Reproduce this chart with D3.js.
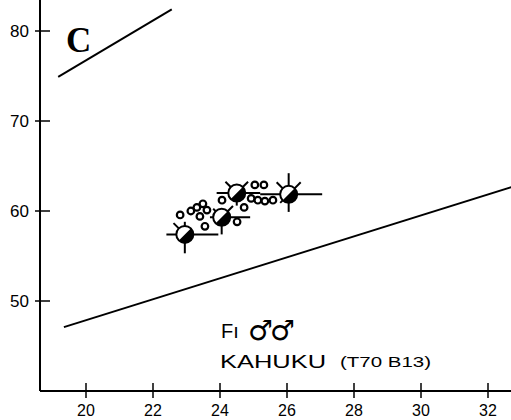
<!DOCTYPE html>
<head>
  <meta charset="utf-8">
  <style>
    body { margin: 0; background: #fff; }
    text { font-family: "Liberation Sans", Arial, sans-serif; fill: #000; }
  </style>
  <title>F1 males, Kahuku</title>
</head>
<body>
  <script src="https://cdn.jsdelivr.net/npm/d3@7/dist/d3.min.js"></script>
  <script>
    // axis ticks
    var xTicks = [20, 22, 24, 26, 28, 30, 32];
    var yTicks = [50, 60, 70, 80];

    // bounding lines (endpoints in data units)
    var upperLineX = [19.17, 22.56];
    var upperLineY = [74.9, 82.4];
    var lowerLineX = [19.34, 32.7];
    var lowerLineY = [47.1, 62.65];

    // individual males (open circles)
    var smallX = [22.81, 23.13, 23.31, 23.49, 23.61, 23.40, 23.55, 24.06, 24.51, 24.72, 25.04, 25.31, 24.93, 25.13, 25.34, 25.58];
    var smallY = [59.56, 60.0, 60.4, 60.8, 60.1, 59.4, 58.3, 61.2, 58.8, 60.4, 62.9, 62.9, 61.4, 61.2, 61.1, 61.2];

    // means with ranges
    var bigX   = [22.95, 24.05, 24.5, 26.05];
    var bigY   = [57.4, 59.3, 62.0, 61.85];
    var bigXLo = [22.4, 23.7, 23.9, 25.2];
    var bigXHi = [23.95, 24.9, 25.2, 27.05];
    var bigYLo = [55.3, 57.4, 60.6, 59.9];
    var bigYHi = [58.8, 59.3, 62.0, 64.2];
    // extra spokes: [angle in degrees, length]
    var bigSpokes = [
      [[-135, 16]],
      [[-135, 12], [-45, 16]],
      [[-135, 16], [-45, 16]],
      [[-135, 17], [-45, 17], [135, 12]]
    ];

    var width = 511, height = 420;

    var svg = d3.select("body").append("svg").attr("width", width).attr("height", height);

    var x = d3.scaleLinear().domain([20, 32]).range([86, 488]);
    var y = d3.scaleLinear().domain([40, 80]).range([391, 31]);
    var x0 = x.invert(40), y0 = 40;

    // axes
    svg.append("line").attr("x1", x(x0)).attr("x2", width).attr("y1", y(y0)).attr("y2", y(y0))
      .attr("stroke", "#000").attr("stroke-width", 2);
    svg.append("line").attr("x1", x(x0)).attr("x2", x(x0)).attr("y1", y(y0)).attr("y2", 0)
      .attr("stroke", "#000").attr("stroke-width", 2);

    svg.selectAll(".xt").data(xTicks).enter().append("line").attr("class", "xt")
      .attr("x1", function(d) { return x(d); }).attr("x2", function(d) { return x(d); })
      .attr("y1", y(y0) - 8).attr("y2", y(y0) + 7).attr("stroke", "#000").attr("stroke-width", 1.5);
    svg.selectAll(".xl").data(xTicks).enter().append("text").attr("class", "xl")
      .attr("x", function(d) { return x(d); }).attr("y", 416).attr("text-anchor", "middle")
      .attr("font-size", 16).text(function(d) { return d; });

    svg.selectAll(".yt").data(yTicks).enter().append("line").attr("class", "yt")
      .attr("y1", function(d) { return y(d); }).attr("y2", function(d) { return y(d); })
      .attr("x1", x(x0) - 5).attr("x2", x(x0) + 10).attr("stroke", "#000").attr("stroke-width", 1.5);
    svg.selectAll(".yl").data(yTicks).enter().append("text").attr("class", "yl")
      .attr("x", 29).attr("y", function(d) { return y(d) + 6; }).attr("text-anchor", "end")
      .attr("font-size", 17).text(function(d) { return d; });

    // bounding lines
    var line = d3.line().x(function(d) { return x(d[0]); }).y(function(d) { return y(d[1]); });
    [d3.zip(upperLineX, upperLineY), d3.zip(lowerLineX, lowerLineY)].forEach(function(pts) {
      svg.append("path").attr("d", line(pts)).attr("fill", "none").attr("stroke", "#000").attr("stroke-width", 2);
    });

    // big symbols: ranges and spokes
    var big = bigX.map(function(v, i) {
      return { x: v, y: bigY[i], xlo: bigXLo[i], xhi: bigXHi[i], ylo: bigYLo[i], yhi: bigYHi[i], spokes: bigSpokes[i] };
    });
    var g = svg.selectAll(".big").data(big).enter().append("g").attr("class", "big");
    g.append("line").attr("x1", function(d) { return x(d.xlo); }).attr("x2", function(d) { return x(d.xhi); })
      .attr("y1", function(d) { return y(d.y); }).attr("y2", function(d) { return y(d.y); })
      .attr("stroke", "#000").attr("stroke-width", 2);
    g.append("line").attr("x1", function(d) { return x(d.x); }).attr("x2", function(d) { return x(d.x); })
      .attr("y1", function(d) { return y(d.ylo); }).attr("y2", function(d) { return y(d.yhi); })
      .attr("stroke", "#000").attr("stroke-width", 2);
    g.each(function(d) {
      var s = d3.select(this);
      d.spokes.forEach(function(sp) {
        var a = sp[0] * Math.PI / 180;
        s.append("line").attr("x1", x(d.x)).attr("y1", y(d.y))
          .attr("x2", x(d.x) + Math.cos(a) * sp[1]).attr("y2", y(d.y) + Math.sin(a) * sp[1])
          .attr("stroke", "#000").attr("stroke-width", 2);
      });
    });

    // small open circles
    svg.selectAll(".sm").data(d3.zip(smallX, smallY)).enter().append("circle").attr("class", "sm")
      .attr("cx", function(d) { return x(d[0]); }).attr("cy", function(d) { return y(d[1]); })
      .attr("r", 3.3).attr("fill", "#fff").attr("stroke", "#000").attr("stroke-width", 2.2);

    // half-filled circles
    var r = 8.5;
    g.append("circle").attr("cx", function(d) { return x(d.x); }).attr("cy", function(d) { return y(d.y); })
      .attr("r", r).attr("fill", "#fff").attr("stroke", "#000").attr("stroke-width", 2);
    var half = d3.arc().innerRadius(0).outerRadius(r).startAngle(Math.PI / 4).endAngle(Math.PI * 5 / 4);
    g.append("path").attr("d", half)
      .attr("transform", function(d) { return "translate(" + x(d.x) + "," + y(d.y) + ")"; })
      .attr("fill", "#000");

    // panel letter
    svg.append("text").attr("x", 66).attr("y", 52).attr("font-size", 35).attr("font-weight", "bold")
      .style("font-family", "'Liberation Serif', 'Times New Roman', serif").text("C");

    // labels
    svg.append("text").attr("x", 221).attr("y", 338).attr("font-size", 20).text("F\u0131");
    svg.append("text").attr("x", 248).attr("y", 340).attr("font-size", 28).attr("letter-spacing", -3)
      .style("font-family", "'DejaVu Sans', sans-serif").style("font-weight", "bold").text("\u2642\u2642");
    svg.append("text").attr("x", 220).attr("y", 368).attr("font-size", 19)
      .attr("textLength", 106).attr("lengthAdjust", "spacingAndGlyphs").text("KAHUKU");
    svg.append("text").attr("x", 340).attr("y", 367).attr("font-size", 14)
      .attr("textLength", 91).attr("lengthAdjust", "spacingAndGlyphs").text("(T70 B13)");
  </script>
</body>
